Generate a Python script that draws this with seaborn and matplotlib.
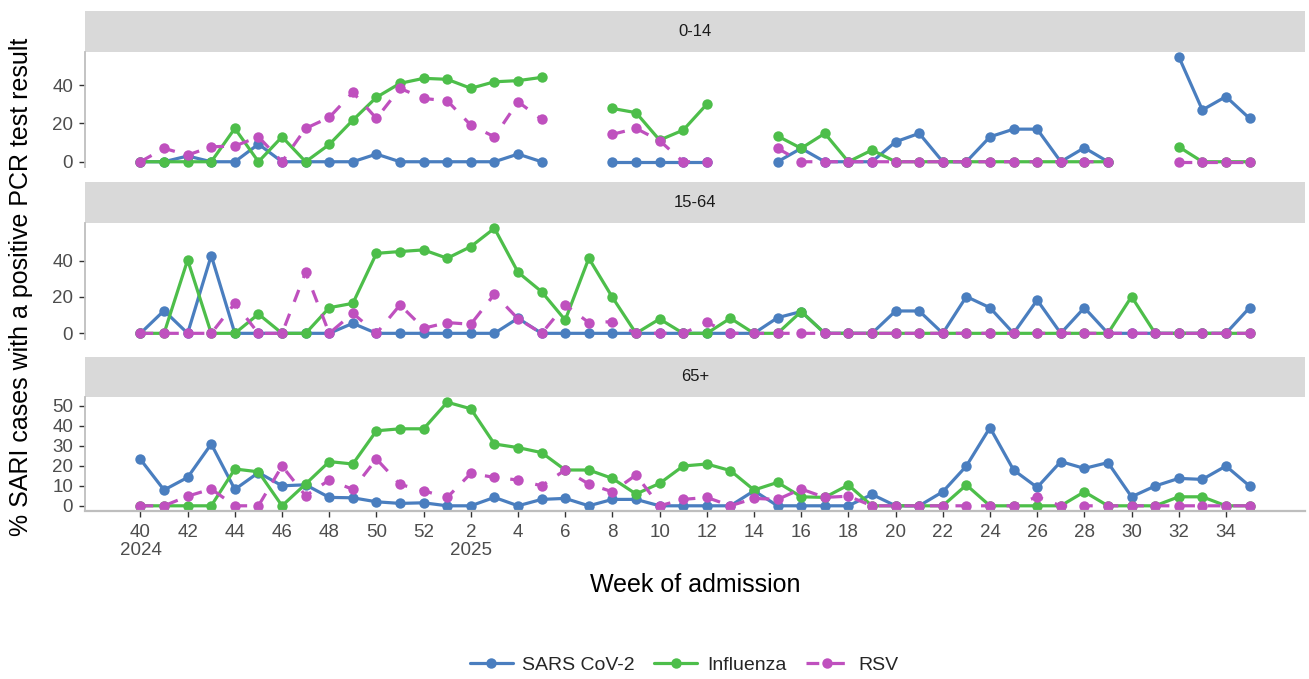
import numpy as np
import pandas as pd
import matplotlib
matplotlib.use("Agg")
import matplotlib.pyplot as plt
import seaborn as sns
from matplotlib.patches import Rectangle
from matplotlib.lines import Line2D

nan = np.nan

# week 40/2024 .. week 35/2025
weeks = list(range(40, 53)) + list(range(1, 36))
tick_weeks = {40: "40\n2024", 2: "2\n2025"}

age_groups = ["0-14", "15-64", "65+"]
viruses = ["SARS CoV-2", "Influenza", "RSV"]

# ---- 0-14 ----
covid_0_14 = [0, 0, 3, 0, 0, 9.2, 0, 0, 0, 0, 4, 0, 0, 0, 0, 0, 4, 0,
              nan, nan, 0, 0, 0, 0, 0, nan, nan,
              0, 7, 0, 0, 0, 10.4, 14.8, 0, 0, 13, 17, 17, 0, 7.3, 0,
              nan, nan, 54.8, 27, 34, 22.6]
flu_0_14 = [0, 0, 0, 0, 17.4, 0, 13, 0, 9, 21.7, 33.6, 40.9, 43.5, 43, 38.3, 41.7, 42.3, 44,
            nan, nan, 27.8, 25.6, 11.3, 16.5, 30, nan, nan,
            13.4, 7, 14.8, 0, 6.1, 0, 0, 0, 0, 0, 0, 0, 0, 0, 0,
            nan, nan, 7.8, 0, 0, 0]
rsv_0_14 = [0, 7, 3.5, 7.8, 8.2, 13, 0, 17.4, 23.1, 36.2, 22.6, 38.3, 33, 31.8, 19.1, 13, 31.3, 22.1,
            nan, nan, 14.3, 17.4, 11, 0, 0, nan, nan,
            7, 0, 0, 0, 0, 0, 0, 0, 0, 0, 0, 0, 0, 0, 0,
            nan, nan, 0, 0, 0, 0]

# ---- 15-64 ----
covid_15_64 = [0, 12.5, 0, 42.8, 0, 0, 0, 0, 0, 5.5, 0, 0, 0, 0, 0, 0, 8.3, 0,
               0, 0, 0, 0, 0, 0, 0, 0, 0,
               8.6, 12, 0, 0, 0, 12.3, 12.3, 0, 20.2, 14.1, 0, 18.3, 0, 14.1, 0,
               0, 0, 0, 0, 0, 14.1]
flu_15_64 = [0, 0, 40.4, 0, 0, 10.6, 0, 0, 14.1, 16.5, 44, 45, 45.9, 41.3, 47.7, 57.8, 33.6, 22.9,
             7.3, 41.3, 19.8, 0, 7.9, 0, 0, 8.3, 0,
             0, 12, 0, 0, 0, 0, 0, 0, 0, 0, 0, 0, 0, 0, 0,
             20.2, 0, 0, 0, 0, 0]
rsv_15_64 = [0, 0, 0, 0, 16.5, 0, 0, 33.6, 0, 11, 0, 15.6, 2.8, 5.9, 5, 21.5, 8, 0,
             15.6, 5.9, 6.4, 0, 0, 0, 6, 0, 0,
             0, 0, 0, 0, 0, 0, 0, 0, 0, 0, 0, 0, 0, 0, 0,
             0, 0, 0, 0, 0, 0]

# ---- 65+ ----
covid_65 = [23.2, 7.9, 14.2, 30.9, 8.2, 16.6, 10, 10.5, 4.2, 4, 2, 1.2, 1.5, 0, 0, 4.2, 0, 3.2,
            3.7, 0, 3.2, 3.2, 0, 0, 0, 0, 7.5,
            0, 0, 0, 0, 5.7, 0, 0, 7, 19.9, 39.1, 17.9, 9.2, 22.1, 18.7, 21.6,
            4.5, 9.9, 13.7, 13.2, 19.9, 9.9]
flu_65 = [0, 0, 0, 0, 18.4, 17, 0, 10.9, 22.1, 20.9, 37.5, 38.5, 38.5, 51.8, 48.5, 30.9, 29.1, 26.6,
          17.9, 17.9, 13.7, 5.9, 11.2, 19.9, 20.9, 17.6, 7.9,
          11.7, 4.5, 4.2, 10.4, 0, 0, 0, 0, 10.4, 0, 0, 0, 0, 7, 0,
          0, 0, 4.5, 4.5, 0, 0]
rsv_65 = [0, 0, 4.8, 8.4, 0, 0, 19.9, 5, 12.9, 8.2, 23.4, 10.7, 7.5, 4.2, 16.2, 14.2, 12.9, 10,
          17.9, 10.9, 7, 15.4, 0, 3.2, 4.2, 0, 3.7,
          3.2, 8.4, 4.2, 4.8, 0, 0, 0, 0, 0, 0, 0, 4.5, 0, 0, 0,
          0, 0, 0, 0, 0, 0]

series = {
    "0-14": [covid_0_14, flu_0_14, rsv_0_14],
    "15-64": [covid_15_64, flu_15_64, rsv_15_64],
    "65+": [covid_65, flu_65, rsv_65],
}

colors = {"SARS CoV-2": "#4A7EBF", "Influenza": "#4DBE4A", "RSV": "#BF50BE"}

rows = []
for age in age_groups:
    for virus, vals in zip(viruses, series[age]):
        for i, v in enumerate(vals):
            rows.append({"age": age, "virus": virus, "idx": i, "pct": v})
df = pd.DataFrame(rows)
# break lines where weeks are missing
df["seg"] = df.groupby(["age", "virus"])["pct"].transform(lambda s: s.isna().cumsum())
df["unit"] = df["virus"] + "_" + df["seg"].astype(str)
df = df.dropna(subset=["pct"])

sns.set_theme(style="white")
plt.rcParams["font.family"] = ["Liberation Sans", "DejaVu Sans"]

g = sns.relplot(
    data=df, x="idx", y="pct", hue="virus", style="virus", units="unit", estimator=None,
    row="age", row_order=age_groups, hue_order=viruses, style_order=viruses,
    kind="line", palette=colors,
    markers={v: "o" for v in viruses},
    dashes={"SARS CoV-2": "", "Influenza": "", "RSV": (4, 4)},
    linewidth=2.3, markersize=7.5, markeredgewidth=0,
    facet_kws=dict(sharey=False, sharex=True), legend=False,
    height=2, aspect=6,
)

fig = g.figure
fig.set_size_inches(13.09, 6.79)
W, H = 1309, 679

# panel boxes in pixels: (top, bottom)
panel_px = [(51.5, 167), (223, 338.6), (397, 511)]
strip_px = 40.5
ylims = [(-2.74, 57.5), (-2.9, 60.7), (-2.6, 54.4)]
yticks = [[0, 20, 40], [0, 20, 40], [0, 10, 20, 30, 40, 50]]

tick_pos = list(range(0, len(weeks), 2))
tick_lab = [tick_weeks.get(weeks[i], str(weeks[i])) for i in tick_pos]

for k, ax in enumerate(g.axes.flat):
    top, bot = panel_px[k]
    ax.set_position([85 / W, 1 - bot / H, 1220 / W, (bot - top) / H])
    ax.set_xlim(-2.35, 49.35)
    ax.set_ylim(*ylims[k])
    ax.set_yticks(yticks[k])
    ax.set_title("")
    ax.set_xlabel("")
    ax.set_ylabel("")
    for s in ["top", "right"]:
        ax.spines[s].set_visible(False)
    ax.spines["left"].set_color("#BEBEBE")
    ax.spines["left"].set_linewidth(1.3)
    ax.tick_params(axis="y", left=True, length=4.5, width=1, color="#333333",
                   labelsize=13.5, labelcolor="#4D4D4D", pad=4)
    # facet strip
    h = strip_px / (bot - top)
    ax.add_patch(Rectangle((0, 1), 1, h, transform=ax.transAxes, clip_on=False,
                           facecolor="#D9D9D9", edgecolor="none"))
    ax.text(0.5, 1 + h / 2, age_groups[k], transform=ax.transAxes, ha="center",
            va="center", fontsize=12, color="#1A1A1A")
    if k < 2:
        ax.spines["bottom"].set_visible(False)
        ax.tick_params(axis="x", bottom=False, labelbottom=False)
    else:
        ax.spines["bottom"].set_color("#BEBEBE")
        ax.spines["bottom"].set_linewidth(1.6)
        ax.set_xticks(tick_pos)
        ax.set_xticklabels(tick_lab, linespacing=1.05)
        ax.tick_params(axis="x", bottom=True, labelbottom=True, length=4.5, width=1,
                       color="#333333", labelsize=13.5, labelcolor="#4D4D4D", pad=5)

fig.text(21 / W, 1 - 287 / H, "% SARI cases with a positive PCR test result",
         rotation=90, ha="center", va="center", fontsize=18, color="black")
fig.text(695 / W, 1 - 585 / H, "Week of admission", ha="center", va="center",
         fontsize=18, color="black")

handles = [Line2D([], [], color=colors[v], lw=2.3, marker="o", markersize=7.5,
                  markeredgewidth=0, linestyle=(0, (4, 4)) if v == "RSV" else "-")
           for v in viruses]
fig.legend(handles, viruses, loc="center", bbox_to_anchor=(684 / W, 1 - 665 / H),
           ncol=3, frameon=False, fontsize=14, numpoints=1, handlelength=2.2,
           handletextpad=0.5, columnspacing=1.0)

fig.savefig("out.png", dpi=100)
